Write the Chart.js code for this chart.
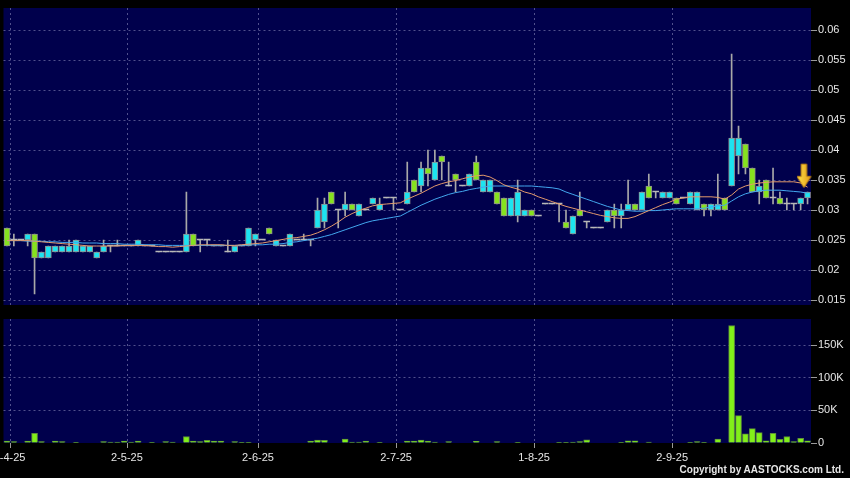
<!DOCTYPE html>
<html>
<head>
<meta charset="utf-8">
<script src="https://cdn.jsdelivr.net/npm/chart.js@4.4.1/dist/chart.umd.min.js"></script>
<style>
  html, body { margin: 0; padding: 0; background: #000; }
  body { width: 850px; height: 478px; position: relative; overflow: hidden; }
  #priceChart { position: absolute; left: 0; top: 0; }
  #volumeChart { position: absolute; left: 0; top: 310px; }
  #copyright {
    position: absolute; right: 6px; top: 464px;
    color: #e6e6e6; font: bold 10px "Liberation Sans", Arial, sans-serif; line-height: 12px;
  }
</style>
</head>
<body>
<canvas id="priceChart" width="850" height="310"></canvas>
<canvas id="volumeChart" width="850" height="168"></canvas>
<div id="copyright">Copyright by AASTOCKS.com Ltd.</div>
<script>
// Month labels and the candle they sit on
const tickDates = ['2-4-25', '2-5-25', '2-6-25', '2-7-25', '1-8-25', '2-9-25'];
const tickIndex = [1, 18, 37, 57, 77, 97];

// Daily prices (HK$)
const opens = [
  0.027,0.025,0.025,0.025,0.026,0.022,0.022,0.023,0.023,0.023,0.023,0.023,0.023,0.022,0.023,0.024,0.024,0.024,0.024,0.024,
  0.024,0.024,0.023,0.023,0.023,0.023,0.023,0.026,0.025,0.025,0.024,0.024,0.023,0.023,0.024,0.024,0.025,0.025,0.027,0.024,
  0.024,0.024,0.025,0.025,0.025,0.027,0.028,0.033,0.030,0.030,0.031,0.029,0.030,0.031,0.030,0.032,0.032,0.030,0.031,0.035,
  0.034,0.037,0.035,0.039,0.034,0.036,0.034,0.034,0.038,0.033,0.033,0.033,0.032,0.029,0.029,0.029,0.030,0.029,0.031,0.031,
  0.031,0.028,0.026,0.030,0.028,0.027,0.027,0.028,0.030,0.029,0.030,0.031,0.030,0.034,0.033,0.032,0.032,0.032,0.032,0.031,
  0.030,0.031,0.030,0.030,0.032,0.034,0.039,0.041,0.037,0.033,0.035,0.032,0.032,0.031,0.031,0.031,0.032
];
const highs = [
  0.027,0.026,0.025,0.026,0.026,0.023,0.024,0.024,0.024,0.025,0.025,0.024,0.024,0.023,0.025,0.024,0.025,0.024,0.024,0.025,
  0.024,0.024,0.023,0.023,0.023,0.023,0.033,0.026,0.025,0.025,0.024,0.024,0.025,0.024,0.024,0.027,0.026,0.025,0.027,0.025,
  0.024,0.026,0.025,0.026,0.025,0.032,0.032,0.033,0.030,0.033,0.031,0.031,0.030,0.032,0.032,0.032,0.032,0.030,0.038,0.035,
  0.038,0.040,0.040,0.039,0.038,0.036,0.034,0.036,0.039,0.035,0.035,0.033,0.032,0.032,0.035,0.030,0.030,0.029,0.031,0.031,
  0.031,0.030,0.029,0.033,0.028,0.027,0.027,0.030,0.031,0.031,0.035,0.031,0.033,0.036,0.033,0.033,0.033,0.032,0.032,0.033,
  0.033,0.031,0.031,0.036,0.032,0.056,0.044,0.041,0.037,0.035,0.035,0.037,0.033,0.032,0.031,0.032,0.033
];
const lows = [
  0.024,0.024,0.025,0.024,0.016,0.022,0.022,0.023,0.023,0.023,0.023,0.023,0.023,0.022,0.023,0.023,0.024,0.024,0.024,0.024,
  0.024,0.024,0.023,0.023,0.023,0.023,0.023,0.024,0.023,0.024,0.024,0.024,0.023,0.023,0.024,0.024,0.024,0.025,0.026,0.024,
  0.024,0.024,0.025,0.025,0.024,0.027,0.027,0.031,0.027,0.029,0.030,0.029,0.030,0.031,0.030,0.032,0.030,0.030,0.031,0.033,
  0.033,0.034,0.035,0.035,0.034,0.033,0.034,0.034,0.035,0.033,0.033,0.031,0.029,0.029,0.028,0.029,0.029,0.029,0.031,0.031,
  0.028,0.027,0.026,0.029,0.027,0.027,0.027,0.028,0.027,0.027,0.030,0.030,0.030,0.032,0.032,0.032,0.032,0.031,0.032,0.031,
  0.030,0.029,0.029,0.030,0.030,0.034,0.036,0.036,0.033,0.031,0.032,0.031,0.031,0.030,0.030,0.030,0.031
];
const closes = [
  0.024,0.025,0.025,0.026,0.022,0.023,0.024,0.024,0.024,0.024,0.025,0.024,0.024,0.023,0.024,0.024,0.024,0.024,0.024,0.025,
  0.024,0.024,0.023,0.023,0.023,0.023,0.026,0.024,0.025,0.025,0.024,0.024,0.023,0.024,0.024,0.027,0.026,0.025,0.026,0.025,
  0.024,0.026,0.025,0.025,0.025,0.030,0.031,0.031,0.030,0.031,0.030,0.031,0.030,0.032,0.031,0.032,0.032,0.030,0.033,0.033,
  0.037,0.036,0.038,0.038,0.034,0.035,0.034,0.036,0.035,0.035,0.035,0.031,0.029,0.032,0.033,0.030,0.029,0.029,0.031,0.031,
  0.031,0.027,0.029,0.029,0.028,0.027,0.027,0.030,0.029,0.030,0.031,0.030,0.033,0.032,0.033,0.033,0.033,0.031,0.032,0.033,
  0.033,0.030,0.031,0.031,0.030,0.042,0.042,0.037,0.033,0.034,0.032,0.032,0.031,0.031,0.031,0.032,0.033
];

// Moving averages as drawn on the chart
const ma10 = [
  0.0249,0.0249,0.0249,0.0249,0.0248,0.0247,0.0246,0.0245,0.0244,0.0243,
  0.0242,0.0241,0.0240,0.0240,0.0240,0.0240,0.0240,0.0241,0.0241,0.0241,
  0.0241,0.0240,0.0239,0.0239,0.0238,0.0239,0.0240,0.0241,0.0242,0.0242,
  0.0242,0.0242,0.0241,0.0241,0.0242,0.0243,0.0244,0.0245,0.0247,0.0249,
  0.0251,0.0253,0.0254,0.0256,0.0258,0.0262,0.0267,0.0273,0.0280,0.0288,
  0.0294,0.0299,0.0303,0.0307,0.0309,0.0310,0.0311,0.0312,0.0318,0.0323,
  0.0328,0.0334,0.0340,0.0344,0.0347,0.0349,0.0352,0.0355,0.0357,0.0358,
  0.0355,0.0349,0.0342,0.0338,0.0335,0.0330,0.0327,0.0322,0.0318,0.0314,
  0.0310,0.0306,0.0303,0.0300,0.0297,0.0294,0.0291,0.0289,0.0287,0.0286,
  0.0286,0.0289,0.0294,0.0299,0.0304,0.0309,0.0313,0.0318,0.0320,0.0322,
  0.0322,0.0322,0.0322,0.0321,0.0318,0.0325,0.0335,0.0340,0.0343,0.0345,
  0.0346,0.0347,0.0347,0.0347,0.0347,0.0345,0.0338
];
const ma20 = [
  0.0249,0.0249,0.0249,0.0248,0.0248,0.0248,0.0247,0.0247,0.0246,0.0246,
  0.0246,0.0245,0.0245,0.0245,0.0244,0.0244,0.0244,0.0243,0.0243,0.0243,
  0.0242,0.0242,0.0242,0.0241,0.0241,0.0241,0.0241,0.0241,0.0241,0.0241,
  0.0241,0.0241,0.0241,0.0241,0.0241,0.0242,0.0242,0.0242,0.0243,0.0243,
  0.0244,0.0246,0.0247,0.0249,0.0251,0.0253,0.0256,0.0259,0.0263,0.0267,
  0.0271,0.0275,0.0279,0.0282,0.0284,0.0286,0.0288,0.0290,0.0296,0.0302,
  0.0308,0.0313,0.0318,0.0322,0.0326,0.0329,0.0331,0.0334,0.0336,0.0338,
  0.0340,0.0340,0.0340,0.0340,0.0340,0.0340,0.0340,0.0339,0.0338,0.0337,
  0.0335,0.0330,0.0326,0.0322,0.0318,0.0314,0.0310,0.0306,0.0303,0.0300,
  0.0299,0.0298,0.0298,0.0299,0.0299,0.0300,0.0301,0.0302,0.0302,0.0302,
  0.0302,0.0303,0.0305,0.0307,0.0308,0.0315,0.0322,0.0327,0.0330,0.0332,
  0.0333,0.0333,0.0333,0.0332,0.0331,0.0330,0.0328
];

// Daily volume, thousands of shares
const volumeK = [
  3,2,0,3,15,2,0,3,2,0,1,0,0,0,2,1.5,1.5,3,1.5,3,
  0,0.5,0,2,1.5,0,10,3,2,4,3,3,0,2,0.5,0.5,0,0,0,0,
  0,0,0,0,3,4.5,4,0,0,6,1.5,1.5,3,0,0.5,0,0,0,3,3,
  4.5,3,1.5,0,2,0,0,0,2.5,0,0,2,0,0,0.5,0,0,0,0,0,
  1,1,1.5,2,5,0,0,0,0,1,3.5,3.5,0,1.5,0,0,0,0,0,0.5,
  2,0.5,0,6,0,180,42,14,22,16,3.5,15,5.5,10,2,7,3.5
];

// Marker over the latest candle
const arrowPrice = 0.0357;

const labels = opens.map(() => '');
tickIndex.forEach((idx, k) => { labels[idx] = tickDates[k]; });
const last = opens.length - 1;

const CYAN = '#1de3f0';
const GREEN = '#86e21e';
const FLAT = '#b8b8b8';
const NAVY = '#00004c';
const GRID = 'rgba(135,135,185,0.6)';
const TEXT = '#e6e6e6';
const FONT = { family: '"Liberation Sans", Arial, sans-serif', size: 11 };

Chart.defaults.animation = false;
Chart.defaults.responsive = false;
Chart.defaults.plugins.legend.display = false;
Chart.defaults.plugins.tooltip.enabled = false;

// navy plot background
const plotBg = {
    id: 'plotBg',
    beforeDraw(chart) {
        const { ctx, chartArea: a } = chart;
        ctx.save();
        ctx.fillStyle = NAVY;
        ctx.fillRect(a.left, a.top, a.right - a.left, a.bottom - a.top);
        ctx.restore();
    }
};

const monthGrid = ctx => labels[ctx.index] ? GRID : 'rgba(0,0,0,0)';
const monthTick = ctx => labels[ctx.index] ? '#9a9a9a' : 'rgba(0,0,0,0)';

// yellow down arrow used as point style
const arrowImg = document.createElement('canvas');
arrowImg.width = 22;
arrowImg.height = 28;
(function () {
    const g = arrowImg.getContext('2d');
    const cx = 7.4;
    g.beginPath();
    g.moveTo(cx - 2.7, 2.3);
    g.lineTo(cx + 2.7, 2.3);
    g.lineTo(cx + 2.7, 14.7);
    g.lineTo(cx + 7, 14.7);
    g.lineTo(cx, 25.7);
    g.lineTo(cx - 7, 14.7);
    g.lineTo(cx - 2.7, 14.7);
    g.closePath();
    const grad = g.createLinearGradient(cx - 7, 0, cx + 7, 0);
    grad.addColorStop(0, '#ffe44f');
    grad.addColorStop(1, '#e59c14');
    g.fillStyle = grad;
    g.fill();
    g.strokeStyle = '#c98a10';
    g.lineWidth = 1;
    g.stroke();
})();

const bodyColors = opens.map((o, i) => closes[i] > o ? CYAN : closes[i] < o ? GREEN : FLAT);
const bodyBorders = opens.map((o, i) => closes[i] === o ? 0 : 1);

// Price panel
new Chart(document.getElementById('priceChart'), {
    type: 'bar',
    data: {
        labels: labels,
        datasets: [
            {
                type: 'line', data: labels.map((_, i) => i === last ? arrowPrice : null),
                showLine: false, pointStyle: arrowImg, pointRadius: 10, order: -1
            },
            { type: 'line', data: ma10, borderColor: '#e39a6c', borderWidth: 1, pointRadius: 0, order: 0 },
            { type: 'line', data: ma20, borderColor: '#43a7ee', borderWidth: 1, pointRadius: 0, order: 0 },
            {
                data: opens.map((o, i) => [o, closes[i]]),
                backgroundColor: bodyColors, borderColor: '#8e8e8e', borderWidth: bodyBorders,
                borderSkipped: false, barThickness: 6, minBarLength: 1, grouped: false, order: 1
            },
            {
                data: lows.map((l, i) => [l, highs[i]]),
                backgroundColor: '#a8a8a8', barThickness: 1, grouped: false, order: 2
            }
        ]
    },
    options: {
        layout: { autoPadding: false, padding: { left: 3.5, top: 8, right: 0, bottom: 5 } },
        scales: {
            x: {
                offset: true,
                grid: { offset: true, color: monthGrid, drawTicks: false },
                border: { display: false, dash: [2, 3] },
                ticks: { display: false, autoSkip: false },
                afterFit(s) { s.height = 0; s.paddingLeft = 0; s.paddingRight = 0; }
            },
            y: {
                position: 'right',
                min: 0.014167,
                max: 0.063667,
                grid: { color: GRID, tickColor: '#9a9a9a', tickLength: 6, tickBorderDash: [] },
                border: { display: false, dash: [2, 3] },
                ticks: {
                    stepSize: 0.005, includeBounds: false, padding: 1, color: TEXT, font: FONT,
                    callback: v => String(+v.toFixed(3))
                },
                afterFit(s) { s.width = 39; s.paddingTop = 0; s.paddingBottom = 0; }
            }
        }
    },
    plugins: [plotBg]
});

// Volume panel
new Chart(document.getElementById('volumeChart'), {
    type: 'bar',
    data: {
        labels: labels,
        datasets: [{
            data: volumeK,
            backgroundColor: '#82f01a', borderColor: '#5f8f3a', borderWidth: 1, barThickness: 6
        }]
    },
    options: {
        layout: { autoPadding: false, padding: { left: 3.5, top: 9, right: 0, bottom: 0 } },
        scales: {
            x: {
                offset: true,
                grid: { offset: true, color: monthGrid, tickColor: monthTick, tickLength: 5, tickBorderDash: [] },
                border: { display: false, dash: [2, 3] },
                ticks: {
                    autoSkip: false, maxRotation: 0, minRotation: 0, labelOffset: -4.3,
                    padding: 3, color: TEXT, font: FONT
                },
                afterFit(s) { s.height = 35; s.paddingLeft = 0; s.paddingRight = 0; }
            },
            y: {
                position: 'right',
                min: 0,
                max: 190,
                grid: {
                    color: ctx => ctx.tick && ctx.tick.value === 0 ? 'rgba(0,0,0,0)' : GRID,
                    tickColor: '#9a9a9a', tickLength: 6, tickBorderDash: []
                },
                border: { display: false, dash: [2, 3] },
                ticks: {
                    stepSize: 50, includeBounds: false, padding: 1, color: TEXT, font: FONT,
                    callback: v => v === 0 ? '0' : v + 'K'
                },
                afterFit(s) { s.width = 39; s.paddingTop = 0; s.paddingBottom = 0; }
            }
        }
    },
    plugins: [plotBg]
});
</script>
</body>
</html>
